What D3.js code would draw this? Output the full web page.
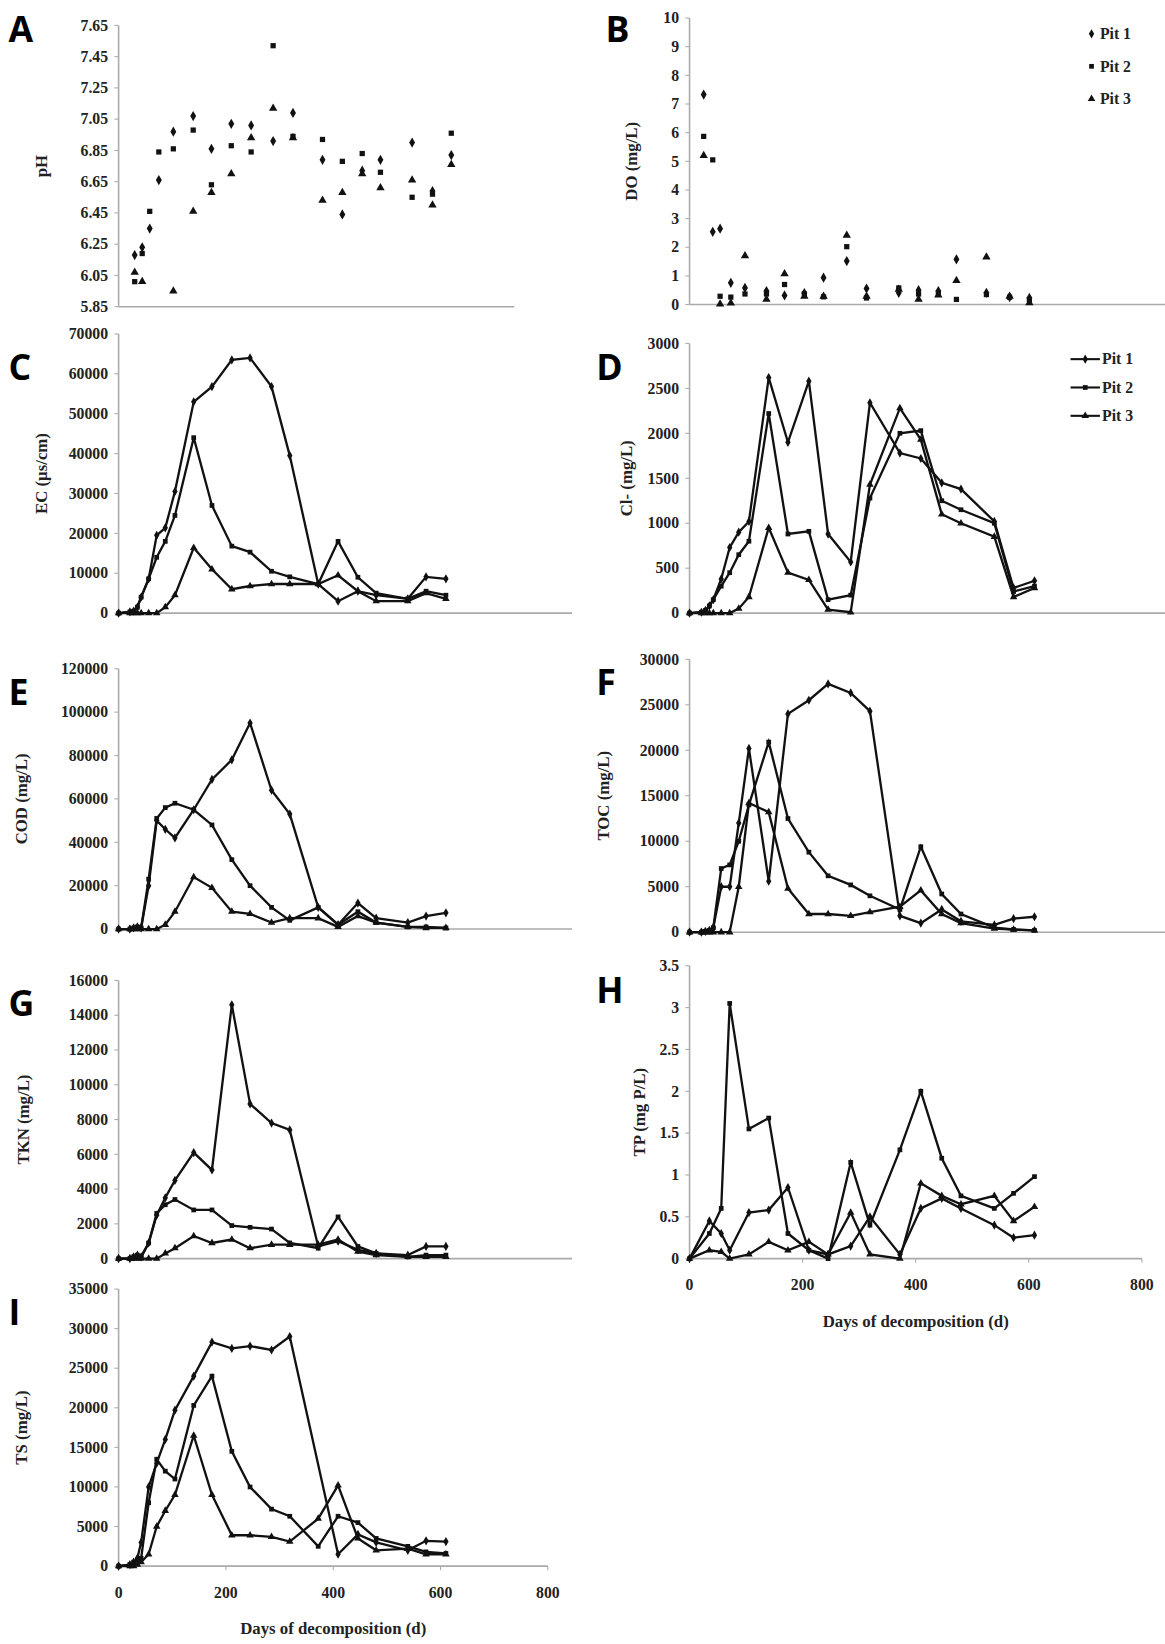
<!DOCTYPE html>
<html>
<head>
<meta charset="utf-8">
<script src="https://cdn.jsdelivr.net/npm/d3@7/dist/d3.min.js"></script>
<style>
  body { margin: 0; background: #fff; }
  text { font-family: "Liberation Serif", "DejaVu Serif", serif; font-weight: bold; fill: #222; }
  .letter { font-family: "Open Sans", "DejaVu Sans", sans-serif; font-size: 34px; fill: #000; }
</style>
</head>
<body>
<svg id="fig" width="1165" height="1644" viewBox="0 0 1110 1566"></svg>
<script>
// sampling days for the line panels
var days = [0, 21, 28, 35, 42, 56, 71, 87, 105, 140, 174, 211, 245, 285, 319, 372, 409, 446, 480, 539, 573, 610];
// scatter panels
var phDays = [30, 44, 58, 75, 102, 139, 173, 210, 247, 288, 325, 380, 417, 454, 488, 547, 585, 620];
var ph1 = [6.18, 6.23, 6.35, 6.66, 6.97, 7.07, 6.86, 7.02, 7.01, 6.91, 7.09, 6.79, 6.44, 6.72, 6.79, 6.90, 6.59, 6.82];
var ph2 = [6.01, 6.19, 6.46, 6.84, 6.86, 6.98, 6.63, 6.88, 6.84, 7.52, 6.94, 6.92, 6.78, 6.83, 6.71, 6.55, 6.57, 6.96];
var ph3 = [6.07, 6.01, null, null, 5.95, 6.46, 6.58, 6.70, 6.93, 7.12, 6.93, 6.53, 6.58, 6.70, 6.61, 6.66, 6.50, 6.76];
var doDays = [25, 41, 54, 73, 98, 136, 168, 203, 237, 278, 313, 370, 405, 440, 472, 525, 566, 601];
var do1 = [7.33, 2.54, 2.65, 0.76, 0.58, 0.47, 0.32, 0.40, 0.94, 1.52, 0.56, 0.41, 0.50, 0.47, 1.58, 0.41, 0.26, 0.23];
var do2 = [5.87, 5.05, 0.29, 0.26, 0.37, 0.37, 0.70, 0.37, 0.27, 2.02, 0.23, 0.58, 0.37, 0.40, 0.18, 0.35, 0.26, 0.18];
var do3 = [5.20, null, 0.02, 0.05, 1.70, 0.18, 1.07, 0.29, 0.29, 2.42, 0.29, 0.53, 0.18, 0.33, 0.84, 1.66, 0.29, 0.06];

var ec1 = [0, 300, 500, 1500, 4000, 8600, 19500, 21400, 30500, 53000, 56800, 63500, 64000, 56800, 39500, 7300, 3000, 5500, 4500, 3600, 9100, 8600];
var ec2 = [0, 300, 500, 1500, 4000, 8600, 14000, 18000, 24500, 44000, 27000, 16800, 15300, 10500, 9100, 7300, 18000, 9000, 5000, 3600, 5500, 4500];
var ec3 = [0, 0, 0, 0, 0, 0, 0, 1500, 4500, 16400, 11000, 6000, 6800, 7300, 7300, 7300, 9500, 5500, 3000, 3000, 5000, 3600];

var cl1 = [0, 10, 30, 80, 150, 380, 730, 900, 1020, 2620, 1900, 2580, 880, 570, 2340, 1780, 1720, 1450, 1380, 1020, 280, 360];
var cl2 = [0, 10, 30, 80, 150, 300, 450, 650, 800, 2220, 880, 910, 150, 200, 1280, 2000, 2030, 1250, 1150, 1000, 240, 300];
var cl3 = [0, 0, 0, 0, 0, 0, 0, 50, 180, 950, 450, 370, 40, 10, 1430, 2280, 1930, 1100, 1000, 850, 180, 280];

var cod1 = [0, 0, 500, 1000, 500, 20000, 50000, 46000, 42000, 55000, 69000, 78000, 95000, 64000, 53000, 10000, 2000, 12000, 5000, 3000, 6000, 7500];
var cod2 = [0, 0, 500, 1000, 500, 23000, 51000, 56000, 58000, 55000, 48000, 32000, 20000, 10000, 4000, 10000, 2000, 8000, 3000, 1000, 1000, 500];
var cod3 = [0, 0, 0, 0, 0, 0, 0, 2000, 8000, 24000, 19000, 8000, 7000, 3000, 5000, 5000, 1000, 6000, 3000, 1000, 500, 500];

var toc1 = [0, 0, 100, 200, 500, 5000, 5000, 12000, 20200, 5600, 24000, 25500, 27300, 26300, 24300, 1800, 1000, 2500, 1200, 800, 1500, 1700];
var toc2 = [0, 0, 100, 200, 500, 7000, 7400, 10000, 14000, 20900, 12500, 8800, 6200, 5200, 4000, 2500, 9400, 4200, 2000, 500, 300, 200];
var toc3 = [0, 0, 0, 0, 0, 0, 0, 5000, 14200, 13200, 4800, 2000, 2000, 1800, 2200, 2800, 4600, 2000, 1000, 400, 300, 200];

var tkn1 = [0, 0, 100, 200, 100, 900, 2500, 3500, 4500, 6100, 5100, 14600, 8900, 7800, 7400, 700, 1000, 500, 300, 200, 700, 700];
var tkn2 = [0, 0, 100, 200, 100, 900, 2600, 3100, 3400, 2800, 2800, 1900, 1800, 1700, 900, 600, 2400, 700, 300, 100, 200, 200];
var tkn3 = [0, 0, 0, 0, 0, 0, 0, 300, 600, 1300, 900, 1100, 600, 800, 800, 800, 1100, 400, 200, 100, 100, 100];

var tp1 = [0, null, null, 0.45, null, 0.30, 0.10, null, 0.55, 0.58, 0.85, 0.10, 0.05, 0.15, 0.50, 0.05, 0.60, 0.72, 0.60, 0.40, 0.25, 0.28];
var tp2 = [0, null, null, 0.30, null, 0.60, 3.05, null, 1.55, 1.68, 0.30, 0.10, 0.00, 1.15, 0.40, 1.30, 2.00, 1.20, 0.75, 0.60, 0.78, 0.98];
var tp3 = [0, null, null, 0.10, null, 0.08, 0.00, null, 0.05, 0.20, 0.10, 0.20, 0.05, 0.55, 0.05, 0.00, 0.90, 0.75, 0.65, 0.75, 0.45, 0.62];

var ts1 = [0, 200, 500, 1000, 3000, 10000, 13000, 16000, 19700, 24000, 28300, 27500, 27800, 27300, 29000, null, 1500, 4000, 3000, 2000, 3200, 3100];
var ts2 = [0, 200, 500, 800, 1000, 8000, 13500, 12000, 11000, 20300, 24000, 14500, 10000, 7200, 6300, 2500, 6300, 5500, 3500, 2500, 1800, 1600];
var ts3 = [0, 0, 0, 200, 500, 1500, 5000, 7000, 9000, 16500, 9000, 3900, 3900, 3700, 3100, 6000, 10200, 3500, 2000, 2200, 1500, 1500];

var xTicks = [0, 200, 400, 600, 800];
var pits = ["Pit 1", "Pit 2", "Pit 3"];

var svg = d3.select("#fig");

function marker(g, kind, x, y, s) {
  if (kind == 0) g.append("path").attr("d", d3.symbol(d3.symbolDiamond, s * s * 1.1)()).attr("transform", "translate(" + x + "," + y + ")");
  else if (kind == 1) g.append("rect").attr("x", x - s / 2).attr("y", y - s / 2).attr("width", s).attr("height", s);
  else g.append("path").attr("d", d3.symbol(d3.symbolTriangle, s * s * 1.1)()).attr("transform", "translate(" + x + "," + y + ")");
}

function panel(o) {
  var x = d3.scaleLinear().domain([0, 800]).range([o.x0, o.x1]);
  var y = d3.scaleLinear().domain(o.dom).range([o.y1, o.y0]);
  var g = svg.append("g");

  // axes
  g.append("line").attr("x1", o.x0).attr("x2", o.x0).attr("y1", o.y0).attr("y2", o.y1).attr("stroke", "#aaa").attr("stroke-width", 1.5);
  g.append("line").attr("x1", o.x0).attr("x2", o.axEnd || o.x1).attr("y1", o.y1).attr("y2", o.y1).attr("stroke", "#aaa").attr("stroke-width", 1.5);
  o.ticks.forEach(function (t) {
    g.append("line").attr("x1", o.x0 - 4).attr("x2", o.x0).attr("y1", y(t)).attr("y2", y(t)).attr("stroke", "#aaa");
    g.append("text").attr("x", o.x0 - 10).attr("y", y(t) + 5).attr("text-anchor", "end")
      .attr("font-size", "15px").text(o.fmt ? o.fmt(t) : t);
  });
  if (o.xlab) {
    xTicks.forEach(function (t) {
      g.append("line").attr("x1", x(t)).attr("x2", x(t)).attr("y1", o.y1).attr("y2", o.y1 + 4).attr("stroke", "#aaa");
      g.append("text").attr("x", x(t)).attr("y", o.y1 + 30).attr("text-anchor", "middle").attr("font-size", "15px").text(t);
    });
    g.append("text").attr("x", (o.x0 + o.x1) / 2).attr("y", o.y1 + 65).attr("text-anchor", "middle")
      .attr("font-size", "16px").text("Days of decomposition (d)");
  }
  g.append("text").attr("transform", "translate(" + o.labX + "," + ((o.y0 + o.y1) / 2) + ") rotate(-90)")
    .attr("text-anchor", "middle").attr("font-size", "16px").text(o.ylab);
  g.append("text").attr("class", "letter").attr("x", o.lx).attr("y", o.ly).text(o.letter);

  var mk = g.append("g").attr("fill", "#111");
  o.series.forEach(function (vals, k) {
    var pts = vals.map(function (v, i) { return [o.xs[i], v]; }).filter(function (p) { return p[1] != null; });
    if (!o.scatter) {
      g.append("path").datum(pts).attr("fill", "none").attr("stroke", "#111").attr("stroke-width", 2.2)
        .attr("d", d3.line().x(function (p) { return x(p[0]); }).y(function (p) { return y(p[1]); }));
    }
    pts.forEach(function (p) { marker(mk, k, x(p[0]), y(p[1]), o.scatter ? 5 : 4.5); });
  });

  if (o.legend == "pts") {
    pits.forEach(function (p, i) {
      marker(mk, i, o.legX, o.legY + i * 31 - 5, 4.5);
      g.append("text").attr("x", o.legX + 8).attr("y", o.legY + i * 31).attr("font-size", "15px").text(p);
    });
  } else if (o.legend == "lines") {
    pits.forEach(function (p, i) {
      var ly = o.legY + i * 27 - 5;
      g.append("line").attr("x1", o.legX).attr("x2", o.legX + 28).attr("y1", ly).attr("y2", ly).attr("stroke", "#111").attr("stroke-width", 2);
      marker(mk, i, o.legX + 14, ly, 4.5);
      g.append("text").attr("x", o.legX + 30).attr("y", o.legY + i * 27).attr("font-size", "15px").text(p);
    });
  }
}

var L = { x0: 113, x1: 522 }, R = { x0: 657, x1: 1088 };

panel({ x0: L.x0, x1: L.x1, axEnd: 490, y0: 24, y1: 292, dom: [5.85, 7.65], ticks: d3.range(5.85, 7.66, 0.2),
  fmt: d3.format(".2f"), ylab: "pH", labX: 45, letter: "A", lx: 8, ly: 40, xs: phDays, series: [ph1, ph2, ph3], scatter: true });
panel({ x0: R.x0, x1: R.x1, axEnd: 1110, y0: 17, y1: 290, dom: [0, 10], ticks: d3.range(0, 11), ylab: "DO (mg/L)", labX: 607,
  letter: "B", lx: 577, ly: 40, xs: doDays, series: [do1, do2, do3], scatter: true, legend: "pts", legX: 1040, legY: 37 });
panel({ x0: L.x0, x1: L.x1, axEnd: 545, y0: 318, y1: 584, dom: [0, 70000], ticks: d3.range(0, 70001, 10000),
  ylab: "EC (µs/cm)", labX: 45, letter: "C", lx: 8, ly: 362, xs: days, series: [ec1, ec2, ec3] });
panel({ x0: R.x0, x1: R.x1, axEnd: 1110, y0: 327, y1: 584, dom: [0, 3000], ticks: d3.range(0, 3001, 500),
  ylab: "Cl- (mg/L)", labX: 602, letter: "D", lx: 568, ly: 362, xs: days, series: [cl1, cl2, cl3], legend: "lines", legX: 1020, legY: 347 });
panel({ x0: L.x0, x1: L.x1, axEnd: 545, y0: 637, y1: 885, dom: [0, 120000], ticks: d3.range(0, 120001, 20000),
  ylab: "COD (mg/L)", labX: 26, letter: "E", lx: 8, ly: 672, xs: days, series: [cod1, cod2, cod3] });
panel({ x0: R.x0, x1: R.x1, axEnd: 1110, y0: 628, y1: 888, dom: [0, 30000], ticks: d3.range(0, 30001, 5000),
  ylab: "TOC (mg/L)", labX: 580, letter: "F", lx: 568, ly: 662, xs: days, series: [toc1, toc2, toc3] });
panel({ x0: L.x0, x1: L.x1, axEnd: 545, y0: 934, y1: 1199, dom: [0, 16000], ticks: d3.range(0, 16001, 2000),
  ylab: "TKN (mg/L)", labX: 28, letter: "G", lx: 8, ly: 968, xs: days, series: [tkn1, tkn2, tkn3] });
panel({ x0: R.x0, x1: R.x1, y0: 920, y1: 1199, dom: [0, 3.5], ticks: d3.range(0, 3.51, 0.5), fmt: d3.format("~g"),
  ylab: "TP (mg P/L)", labX: 615, letter: "H", lx: 568, ly: 955, xs: days, series: [tp1, tp2, tp3], xlab: true });
panel({ x0: L.x0, x1: L.x1, y0: 1228, y1: 1492, dom: [0, 35000], ticks: d3.range(0, 35001, 5000),
  ylab: "TS (mg/L)", labX: 26, letter: "I", lx: 8, ly: 1262, xs: days, series: [ts1, ts2, ts3], xlab: true });
</script>
</body>
</html>
